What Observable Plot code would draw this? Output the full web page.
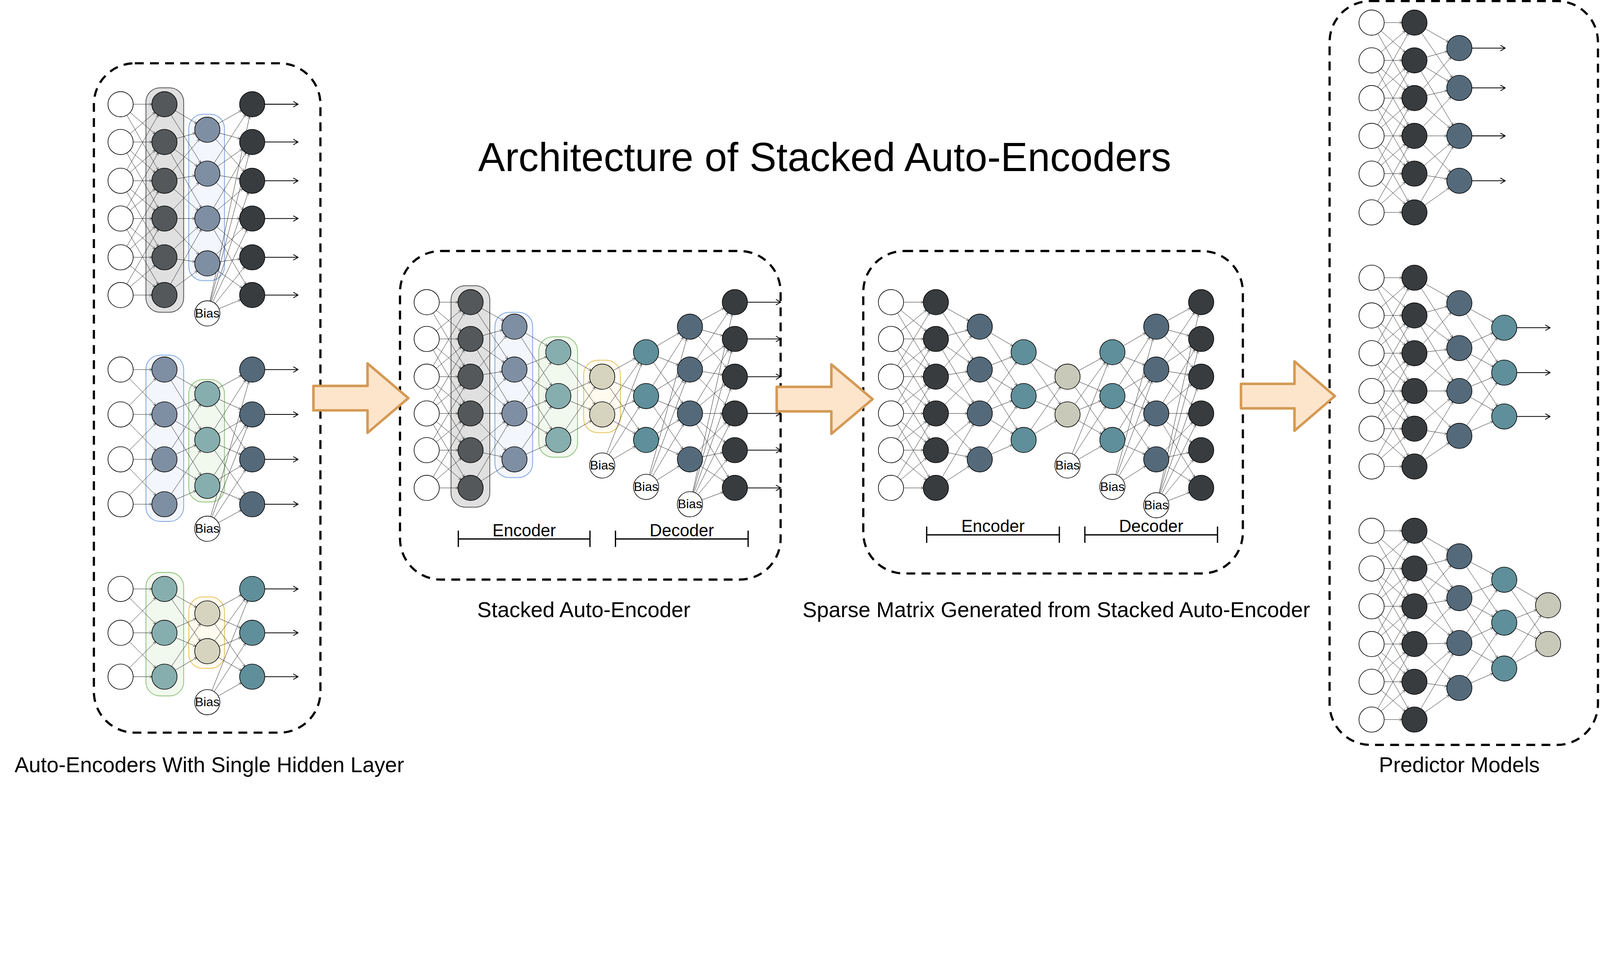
<!DOCTYPE html>
<html><head><meta charset="utf-8">
<script src="https://cdn.jsdelivr.net/npm/d3@7"></script>
<script src="https://cdn.jsdelivr.net/npm/@observablehq/plot@0.6"></script>
<style>html,body{margin:0;background:#fff;overflow:hidden}svg{display:block}</style>
</head><body><div id="chart"></div>
<script>
// colours
const C = {in: "#ffffff", grey: "#54585a", dark: "#383c3f", slate: "#7f8fa3", navy: "#546a7b", sage: "#87aeae", teal: "#5f8f9a", sand: "#d6d4bf", khaki: "#c9c9ba"};

// networks: layers of nodes (diagram coordinates), output arrows flag
const six1 = [102, 139, 177, 214, 252, 289];
const netA1 = [[118, six1, "in"], [161, six1, "grey"], [203, [127, 170, 214, 258], "slate"], [247, six1, "dark"]];
const four2 = [362, 406, 450, 494];
const netA2 = [[118, four2, "in"], [161, four2, "slate"], [203, [386, 431, 476], "sage"], [247, four2, "navy"]];
const three3 = [577, 620, 663];
const netA3 = [[118, three3, "in"], [161, three3, "sage"], [203, [601, 638], "sand"], [247, three3, "teal"]];
const sixB = [296, 332, 369, 405, 441, 478];
const fourB = [320, 362, 405, 450], threeB = [345, 388, 431], twoB = [369, 406];
const netB = [[418, sixB, "in"], [461, sixB, "grey"], [504, fourB, "slate"], [547, threeB, "sage"], [590, twoB, "sand"],
  [633, threeB, "teal"], [676, fourB, "navy"], [720, sixB, "dark"]];
const netC = [[873, sixB, "in"], [917, sixB, "dark"], [960, fourB, "navy"], [1003, threeB, "teal"], [1046, twoB, "khaki"],
  [1090, threeB, "teal"], [1133, fourB, "navy"], [1177, sixB, "dark"]];
const sixD1 = [22, 59, 96, 133, 170, 208], sixD2 = [272, 309, 346, 383, 420, 457], sixD3 = [520, 557, 594, 631, 668, 705];
const netD1 = [[1344, sixD1, "in"], [1386, sixD1, "dark"], [1430, [47, 86, 133, 177], "navy"]];
const netD2 = [[1344, sixD2, "in"], [1386, sixD2, "dark"], [1430, [297, 341, 383, 427], "navy"], [1474, [321, 365, 408], "teal"]];
const netD3 = [[1344, sixD3, "in"], [1386, sixD3, "dark"], [1430, [545, 586, 630, 674], "navy"], [1474, [568, 610, 655], "teal"], [1517, [593, 631], "khaki"]];
const networks = [[netA1, true], [netA2, true], [netA3, true], [netB, true], [netC, false], [netD1, true], [netD2, true], [netD3, false]];

// bias nodes: x, y, network, index of layer it feeds
const biases = [[203, 307, 0, 3], [203, 518, 1, 3], [203, 688, 2, 3], [590, 456, 3, 5], [633, 477, 3, 6], [676, 494, 3, 7],
  [1046, 456, 4, 5], [1090, 477, 4, 6], [1133, 495, 4, 7]];

// rounded bands around layers: x1, x2, y1, y2, fill, stroke
const bands = [[143, 180, 86, 306, "#e0e0e0", "#555"], [185, 220, 112, 275, "#f3f6fd", "#7ea6e0"],
  [143, 180, 348, 511, "#f3f6fd", "#7ea6e0"], [185, 220, 372, 492, "#f1f8ee", "#8fc27a"],
  [143, 180, 561, 682, "#f1f8ee", "#8fc27a"], [185, 220, 585, 655, "#fffbee", "#e8c05a"],
  [442, 480, 280, 497, "#e0e0e0", "#555"], [485, 522, 306, 468, "#f3f6fd", "#7ea6e0"],
  [528, 566, 330, 448, "#f1f8ee", "#8fc27a"], [572, 608, 353, 424, "#fffbee", "#e8c05a"]];

// dashed boxes
const boxes = [[92, 314, 62, 718], [392, 765, 246, 568], [846, 1218, 246, 562], [1303, 1566, 1, 730]];
// big arrows: x start, x end, y centre
const bigArrows = [[307, 400, 390], [761, 855, 391], [1216, 1308, 388]];
// encoder/decoder brackets
const brackets = [["Encoder", 449, 578, 528], ["Decoder", 603, 733, 528], ["Encoder", 908, 1038, 524], ["Decoder", 1063, 1193, 524]];
const captions = [["Auto-Encoders With Single Hidden Layer", 205, 750], ["Stacked Auto-Encoder", 572, 598],
  ["Sparse Matrix Generated from Stacked Auto-Encoder", 1035, 598], ["Predictor Models", 1430, 750]];
const title = ["Architecture of Stacked Auto-Encoders", 808, 155];

// build marks data
const nodes = [], edges = [], outs = [];
networks.forEach(([net, hasOut], ni) => {
  net.forEach(([x, ys, f], li) => {
    ys.forEach(y => nodes.push({x, y, fill: C[f]}));
    const next = net[li + 1];
    if (next) ys.forEach(y => next[1].forEach(y2 => {
      if (Math.abs(y - y2) < 76) edges.push({x1: x, y1: y, x2: next[0], y2});
    }));
    else if (hasOut) ys.forEach(y => outs.push({x1: x, y1: y, x2: x + 45, y2: y}));
  });
});
const biasNodes = biases.map(([x, y, ni, li]) => {
  const [tx, tys] = networks[ni][0][li];
  tys.forEach(y2 => edges.push({x1: x, y1: y, x2: tx, y2}));
  return {x, y};
});
const arrowPolys = bigArrows.flatMap(([a, b, c], i) => {
  const m = a + (b - a) * 0.57;
  return [[a, c - 12], [m, c - 12], [m, c - 34], [b, c], [m, c + 34], [m, c + 12], [a, c + 12], [a, c - 12]]
    .map(([x, y]) => ({x, y, i}));
});

const R = 40;
const plot = Plot.plot({
  width: 5075, height: 2486, margin: 0,
  x: {domain: [0, 1568], axis: null},
  y: {domain: [0, 768], reverse: true, axis: null},
  style: {fontFamily: "Liberation Sans, Arial, sans-serif", background: "#fff"},
  marks: [
    Plot.rect(boxes, {x1: d => d[0], x2: d => d[1], y1: d => d[2], y2: d => d[3], rx: 130, fill: "none", stroke: "#000", strokeWidth: 7, strokeDasharray: "28,20"}),
    Plot.rect(bands, {x1: d => d[0], x2: d => d[1], y1: d => d[2], y2: d => d[3], rx: 45, fill: d => d[4], stroke: d => d[5], strokeWidth: 2.5}),
    Plot.arrow(edges, {x1: "x1", y1: "y1", x2: "x2", y2: "y2", insetStart: R, insetEnd: R, headLength: 10, stroke: "#222", strokeWidth: 1.2}),
    Plot.arrow(outs, {x1: "x1", y1: "y1", x2: "x2", y2: "y2", insetStart: R, headLength: 10, stroke: "#000", strokeWidth: 2.5}),
    Plot.dot(nodes, {x: "x", y: "y", r: R, fill: "fill", stroke: "#000", strokeWidth: 2}),
    Plot.dot(biasNodes, {x: "x", y: "y", r: R, fill: "#fff", stroke: "#000", strokeWidth: 2}),
    Plot.text(biasNodes, {x: "x", y: "y", text: () => "Bias", fontSize: 40, fill: "#000"}),
    Plot.line(arrowPolys, {x: "x", y: "y", z: "i", fill: "#fde5cc", stroke: "#d49a55", strokeWidth: 8, curve: "linear"}),
    Plot.ruleY(brackets, {x1: d => d[1], x2: d => d[2], y: d => d[3], stroke: "#000", strokeWidth: 4}),
    Plot.ruleX(brackets.flatMap(d => [[d[1], d[3]], [d[2], d[3]]]), {x: d => d[0], y1: d => d[1] - 8, y2: d => d[1] + 8, stroke: "#000", strokeWidth: 4}),
    Plot.text(brackets, {x: d => (d[1] + d[2]) / 2, y: d => d[3] - 8, text: d => d[0], fontSize: 54, fill: "#000"}),
    Plot.text(captions, {x: d => d[1], y: d => d[2], text: d => d[0], fontSize: 68, fill: "#000"}),
    Plot.text([title], {x: d => d[1], y: d => d[2], text: d => d[0], fontSize: 128, fill: "#000"})
  ]
});
document.querySelector("#chart").append(plot);
</script>
</body></html>
